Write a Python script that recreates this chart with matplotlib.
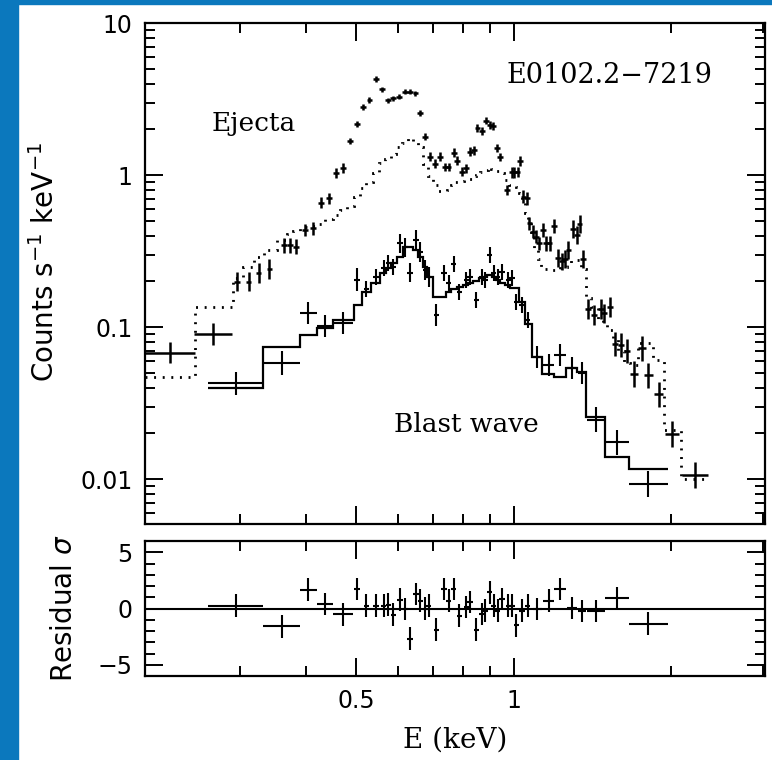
import numpy as np
import matplotlib
matplotlib.use('Agg')
import matplotlib.pyplot as plt
from matplotlib.patches import Rectangle
from matplotlib.ticker import FixedLocator, NullFormatter, LogLocator, MultipleLocator

# ejecta spectrum: bin centre (keV), counts/s/keV, half width and error as factors, model
ej_E = [0.220, 0.266, 0.295, 0.311, 0.325, 0.341, 0.363, 0.374, 0.383, 0.399,
        0.413, 0.428, 0.443, 0.458, 0.472, 0.487, 0.502, 0.516, 0.530, 0.546,
        0.560, 0.574, 0.589, 0.604, 0.621, 0.634, 0.649, 0.663, 0.678, 0.693,
        0.708, 0.724, 0.740, 0.751, 0.768, 0.779, 0.797, 0.812, 0.826, 0.841,
        0.853, 0.870, 0.885, 0.902, 0.913, 0.930, 0.943, 0.971, 0.993, 1.003,
        1.018, 1.030, 1.045, 1.061, 1.073, 1.089, 1.105, 1.121, 1.138, 1.155,
        1.172, 1.196, 1.219, 1.238, 1.256, 1.274, 1.302, 1.322, 1.338, 1.361,
        1.391, 1.427, 1.472, 1.491, 1.531, 1.565, 1.605, 1.648, 1.702, 1.761,
        1.813, 1.895, 2.012, 2.227]
ej_F = [0.068, 0.090, 0.199, 0.199, 0.226, 0.240, 0.346, 0.346, 0.338, 0.435,
        0.446, 0.658, 0.703, 1.03, 1.11, 1.67, 2.16, 2.81, 3.11, 4.28,
        3.66, 3.11, 3.20, 3.27, 3.53, 3.53, 3.45, 2.57, 1.79, 1.32,
        1.19, 1.32, 1.13, 1.13, 1.40, 1.24, 1.05, 1.11, 1.42, 1.46,
        2.03, 1.95, 2.28, 2.13, 2.10, 1.50, 1.32, 0.797, 1.04, 1.04,
        1.05, 1.24, 0.720, 0.703, 0.481, 0.424, 0.393, 0.355, 0.435, 0.355,
        0.355, 0.462, 0.284, 0.271, 0.280, 0.321, 0.441, 0.403, 0.476, 0.280,
        0.131, 0.120, 0.131, 0.123, 0.136, 0.0772, 0.0760, 0.0697, 0.0491, 0.0724,
        0.0483, 0.0362, 0.0198, 0.0106]
ej_dE = [1.115, 1.086, 1.013, 1.013, 1.013, 1.013, 1.013, 1.013, 1.013, 1.013,
         1.013, 1.013, 1.013, 1.013, 1.013, 1.013, 1.013, 1.013, 1.013, 1.013,
         1.013, 1.013, 1.013, 1.013, 1.013, 1.013, 1.013, 1.013, 1.013, 1.013,
         1.013, 1.013, 1.013, 1.013, 1.013, 1.013, 1.013, 1.013, 1.013, 1.013,
         1.013, 1.013, 1.013, 1.013, 1.013, 1.013, 1.013, 1.013, 1.013, 1.013,
         1.013, 1.013, 1.013, 1.013, 1.013, 1.013, 1.013, 1.013, 1.013, 1.013,
         1.013, 1.013, 1.013, 1.013, 1.013, 1.013, 1.013, 1.013, 1.013, 1.013,
         1.013, 1.013, 1.013, 1.013, 1.013, 1.013, 1.013, 1.013, 1.018, 1.018,
         1.018, 1.022, 1.033, 1.060]
ej_dF = [1.18, 1.19, 1.16, 1.16, 1.16, 1.16, 1.12, 1.12, 1.12, 1.10,
         1.10, 1.09, 1.09, 1.08, 1.08, 1.05, 1.05, 1.05, 1.05, 1.04,
         1.04, 1.04, 1.04, 1.04, 1.04, 1.04, 1.04, 1.05, 1.05, 1.07,
         1.07, 1.07, 1.07, 1.07, 1.07, 1.07, 1.07, 1.07, 1.07, 1.07,
         1.06, 1.06, 1.06, 1.06, 1.06, 1.06, 1.06, 1.08, 1.08, 1.08,
         1.08, 1.08, 1.10, 1.10, 1.10, 1.10, 1.10, 1.10, 1.12, 1.12,
         1.12, 1.12, 1.14, 1.14, 1.14, 1.14, 1.14, 1.14, 1.14, 1.14,
         1.16, 1.16, 1.16, 1.16, 1.16, 1.20, 1.20, 1.20, 1.21, 1.21,
         1.21, 1.21, 1.22, 1.22]
ej_model = [0.0469, 0.135, 0.21, 0.25, 0.29, 0.32, 0.374, 0.41, 0.43, 0.455,
            0.465, 0.475, 0.51, 0.55, 0.59, 0.625, 0.72, 0.82, 0.90, 1.03,
            1.20, 1.28, 1.38, 1.52, 1.63, 1.74, 1.65, 1.53, 1.19, 0.98,
            0.86, 0.79, 0.79, 0.80, 0.86, 0.90, 0.92, 0.93, 0.94, 0.98,
            1.00, 1.04, 1.08, 1.13, 1.10, 1.06, 1.03, 0.93, 0.86, 0.85,
            0.83, 0.76, 0.685, 0.56, 0.50, 0.42, 0.32, 0.28, 0.25, 0.24,
            0.237, 0.237, 0.24, 0.245, 0.25, 0.26, 0.276, 0.276, 0.276, 0.24,
            0.155, 0.135, 0.113, 0.105, 0.095, 0.085, 0.070, 0.058, 0.056, 0.078,
            0.078, 0.061, 0.021, 0.0100]

# blast wave spectrum + residuals
bw_E = [0.294, 0.360, 0.405, 0.436, 0.472, 0.502, 0.523, 0.545, 0.564, 0.576,
        0.589, 0.606, 0.621, 0.634, 0.651, 0.663, 0.678, 0.688, 0.712, 0.736,
        0.751, 0.768, 0.788, 0.812, 0.826, 0.849, 0.870, 0.883, 0.900, 0.916,
        0.932, 0.950, 0.978, 0.993, 1.012, 1.038, 1.064, 1.111, 1.167, 1.228,
        1.293, 1.352, 1.439, 1.577, 1.813]
bw_F = [0.0426, 0.0583, 0.123, 0.102, 0.107, 0.204, 0.178, 0.214, 0.243, 0.265,
        0.249, 0.355, 0.334, 0.228, 0.374, 0.313, 0.237, 0.214, 0.120, 0.226,
        0.196, 0.259, 0.171, 0.204, 0.214, 0.151, 0.214, 0.204, 0.298, 0.226,
        0.214, 0.231, 0.204, 0.209, 0.147, 0.140, 0.111, 0.0638, 0.0562, 0.0654,
        0.0535, 0.0496, 0.0245, 0.0174, 0.00927]
bw_dE = [1.128, 1.085, 1.037, 1.037, 1.045, 1.012, 1.012, 1.012, 1.012, 1.012,
         1.012, 1.012, 1.012, 1.012, 1.012, 1.012, 1.012, 1.012, 1.012, 1.012,
         1.012, 1.012, 1.012, 1.012, 1.012, 1.012, 1.012, 1.012, 1.012, 1.012,
         1.012, 1.012, 1.012, 1.012, 1.012, 1.012, 1.012, 1.020, 1.026, 1.026,
         1.022, 1.018, 1.041, 1.053, 1.092]
bw_dF = [1.19, 1.20, 1.18, 1.18, 1.18, 1.19, 1.13, 1.13, 1.13, 1.13,
         1.13, 1.16, 1.16, 1.16, 1.16, 1.16, 1.16, 1.16, 1.18, 1.13,
         1.13, 1.13, 1.13, 1.13, 1.13, 1.13, 1.13, 1.13, 1.13, 1.13,
         1.13, 1.13, 1.13, 1.13, 1.13, 1.13, 1.13, 1.18, 1.18, 1.18,
         1.18, 1.18, 1.21, 1.21, 1.22]
bw_model = [0.0397, 0.0742, 0.0886, 0.098, 0.111, 0.140, 0.171, 0.194, 0.226, 0.245,
            0.262, 0.290, 0.338, 0.338, 0.320, 0.290, 0.249, 0.214, 0.158, 0.158,
            0.170, 0.178, 0.184, 0.190, 0.194, 0.200, 0.210, 0.214, 0.220, 0.214,
            0.204, 0.194, 0.188, 0.180, 0.180, 0.147, 0.105, 0.0638, 0.049, 0.047,
            0.0535, 0.0505, 0.0257, 0.0140, 0.0116]
bw_resid = [0.26, -1.59, 1.68, 0.41, -0.53, 1.74, 0.26, 0.26, 0.26, 0.35,
            -0.55, 0.8, -0.03, -2.68, 1.29, 0.71, 0.0, 0.26, -1.88, 1.74,
            0.71, 1.74, -0.62, 0.12, 0.56, -1.88, -0.47, -0.18, 1.44, 0.26,
            -0.18, 0.85, 0.26, 0.26, -1.5, -0.18, 0.26, -0.03, 0.71, 1.74,
            0.06, -0.24, -0.24, 0.94, -1.35]


def bars(v, k):
    v = np.asarray(v)
    k = np.asarray(k)
    return [v - v / k, v * k - v]


def bin_edges(E, k):
    E = np.asarray(E)
    k = np.asarray(k)
    lo = E / k
    hi = E * k
    return np.concatenate([[lo[0]], np.sqrt(hi[:-1] * lo[1:]), [hi[-1]]])


def style_axis(ax):
    ax.set_xscale('log')
    ax.set_xlim(0.197, 3.03)
    ax.xaxis.set_major_locator(FixedLocator([0.5, 1]))
    ax.xaxis.set_minor_locator(FixedLocator([0.3, 0.4, 0.6, 0.7, 0.8, 0.9, 2, 3]))
    ax.xaxis.set_minor_formatter(NullFormatter())
    ax.tick_params(which='both', direction='in', top=True, right=True, width=1.4,
                   colors='black', labelsize=17)
    ax.tick_params(which='major', length=13, pad=9)
    ax.tick_params(which='minor', length=7)
    for s in ax.spines.values():
        s.set_linewidth(1.6)


fig = plt.figure(figsize=(7.72, 7.6), dpi=100)
fig.patches.append(Rectangle((0, 0), 17.5 / 772, 1, transform=fig.transFigure,
                             color='#0b78bd', zorder=0))
fig.patches.append(Rectangle((0, 1 - 3.5 / 760), 1, 3.5 / 760, transform=fig.transFigure,
                             color='#0b78bd', zorder=0))

ax = fig.add_axes([0.1878, 0.3105, 0.8031, 0.6592])
style_axis(ax)
ax.set_yscale('log')
ax.set_ylim(0.00506, 10)
ax.yaxis.set_major_locator(FixedLocator([0.01, 0.1, 1, 10]))
ax.set_yticklabels(['0.01', '0.1', '1', '10'])
ax.yaxis.set_minor_locator(LogLocator(subs=np.arange(2, 10)))
ax.yaxis.set_minor_formatter(NullFormatter())
ax.xaxis.set_major_formatter(NullFormatter())

ax.stairs(ej_model, bin_edges(ej_E, ej_dE), baseline=None, color='black', lw=2.0,
          linestyle=(0, (0.7, 2.4)))
ax.stairs(bw_model, bin_edges(bw_E, bw_dE), baseline=None, color='black', lw=1.6)
ax.errorbar(ej_E, ej_F, xerr=bars(ej_E, ej_dE), yerr=bars(ej_F, ej_dF),
            fmt='none', ecolor='black', elinewidth=1.8, capsize=0)
ax.errorbar(bw_E, bw_F, xerr=bars(bw_E, bw_dE), yerr=bars(bw_F, bw_dF),
            fmt='none', ecolor='black', elinewidth=1.5, capsize=0)

ax.text(0.176, 0.80, 'Ejecta', transform=ax.transAxes, ha='center', va='center',
        family='DejaVu Serif', fontsize=19)
ax.text(0.749, 0.896, 'E0102.2\u22127219', transform=ax.transAxes, ha='center',
        va='center', family='DejaVu Serif', fontsize=19.5)
ax.text(0.519, 0.198, 'Blast wave', transform=ax.transAxes, ha='center', va='center',
        family='DejaVu Serif', fontsize=19)

ax2 = fig.add_axes([0.1878, 0.1105, 0.8031, 0.1776])
style_axis(ax2)
ax2.set_ylim(-6, 6)
ax2.yaxis.set_major_locator(FixedLocator([-5, 0, 5]))
ax2.yaxis.set_minor_locator(MultipleLocator(1))
ax2.set_xticklabels(['0.5', '1'])
ax2.axhline(0, color='black', lw=1.5)
ax2.errorbar(bw_E, bw_resid, xerr=bars(bw_E, bw_dE), yerr=1,
             fmt='none', ecolor='black', elinewidth=1.5, capsize=0)

fig.text(45 / 772, 1 - 262 / 760, 'Counts s$^{-1}$ keV$^{-1}$', rotation=90,
         ha='center', va='center', fontsize=20)
fig.text(64 / 772, 1 - 608 / 760, 'Residual $\\sigma$', rotation=90,
         ha='center', va='center', fontsize=20)
fig.text(455 / 772, 1 - 740 / 760, 'E (keV)', ha='center', va='center',
         family='DejaVu Serif', fontsize=20)

fig.savefig('out.png', dpi=100)
